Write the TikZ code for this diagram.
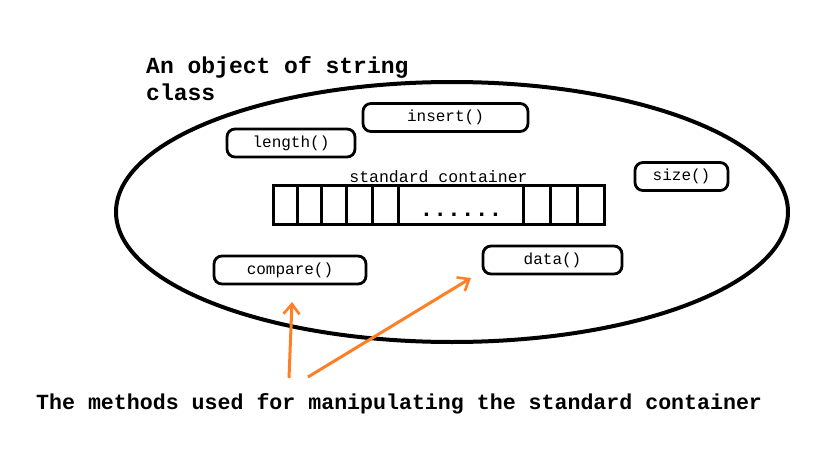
\documentclass[tikz,border=0pt]{standalone}
\usepackage{fontspec}
\setmonofont{Liberation Mono}
\usepackage{xcolor}
\usetikzlibrary{arrows.meta}
\definecolor{arrorange}{RGB}{255,127,39}

\tikzset{
  method/.style={draw, line width=2.8pt, rounded corners=8pt,
    minimum height=28pt, inner sep=0pt,
    font=\ttfamily\fontsize{16}{18}\selectfont},
  pointer/.style={arrorange, line width=3pt,
    -{Straight Barb[length=10pt, width=16pt, line width=2.6pt]}}
}

\begin{document}
\begin{tikzpicture}[x=1pt, y=-1pt]
  \useasboundingbox (0,0) rectangle (817,452);
  \def\rx{336}
  \def\ry{130}
  \coordinate (O) at (452,212);
  \draw[line width=4pt] (O) ellipse [x radius=\rx, y radius=\ry];

  \node (heading) [anchor=north west, align=left, inner sep=0pt,
    font=\ttfamily\bfseries\fontsize{23}{27}\selectfont]
    at (146,56) {An object of string\\class};

  \node (insert)  [method, minimum width=165pt] at (445.5,117.5) {insert()};
  \node (length)  [method, minimum width=128pt] at (291,143)     {length()};
  \node (size)    [method, minimum width=93pt]  at (681.5,176.5) {size()};
  \node (compare) [method, minimum width=152pt] at (290,270)     {compare()};
  \node (data)    [method, minimum width=139pt] at (552.5,260)   {data()};

  % the container and its cells
  \coordinate (c0) at (273,185);
  \coordinate (c1) at (604,224);
  \draw[line width=3pt] (c0) rectangle (c1);
  \foreach \x in {297.5,321,346,372,398,523,550,577}
    \draw[line width=3pt] (\x,185) -- (\x,224);
  \node (contlabel) [above, inner sep=2pt,
    font=\ttfamily\fontsize{16.5}{18}\selectfont]
    at (438.5,185) {standard container};
  \node (dots) [anchor=base, inner sep=0pt,
    font=\ttfamily\bfseries\fontsize{23}{24}\selectfont]
    at (461,216) {......};

  \node (caption) [anchor=base west, inner sep=0pt,
    font=\ttfamily\bfseries\fontsize{21.6}{24}\selectfont]
    at (36,409) {The methods used for manipulating the standard container};

  \coordinate (from1) at (289,378);
  \coordinate (to1)   at (292,302);
  \coordinate (from2) at (308,377);
  \coordinate (to2)   at (471,278);
  \draw[pointer] (from1) -- (to1);
  \draw[pointer] (from2) -- (to2);
\end{tikzpicture}
\end{document}
